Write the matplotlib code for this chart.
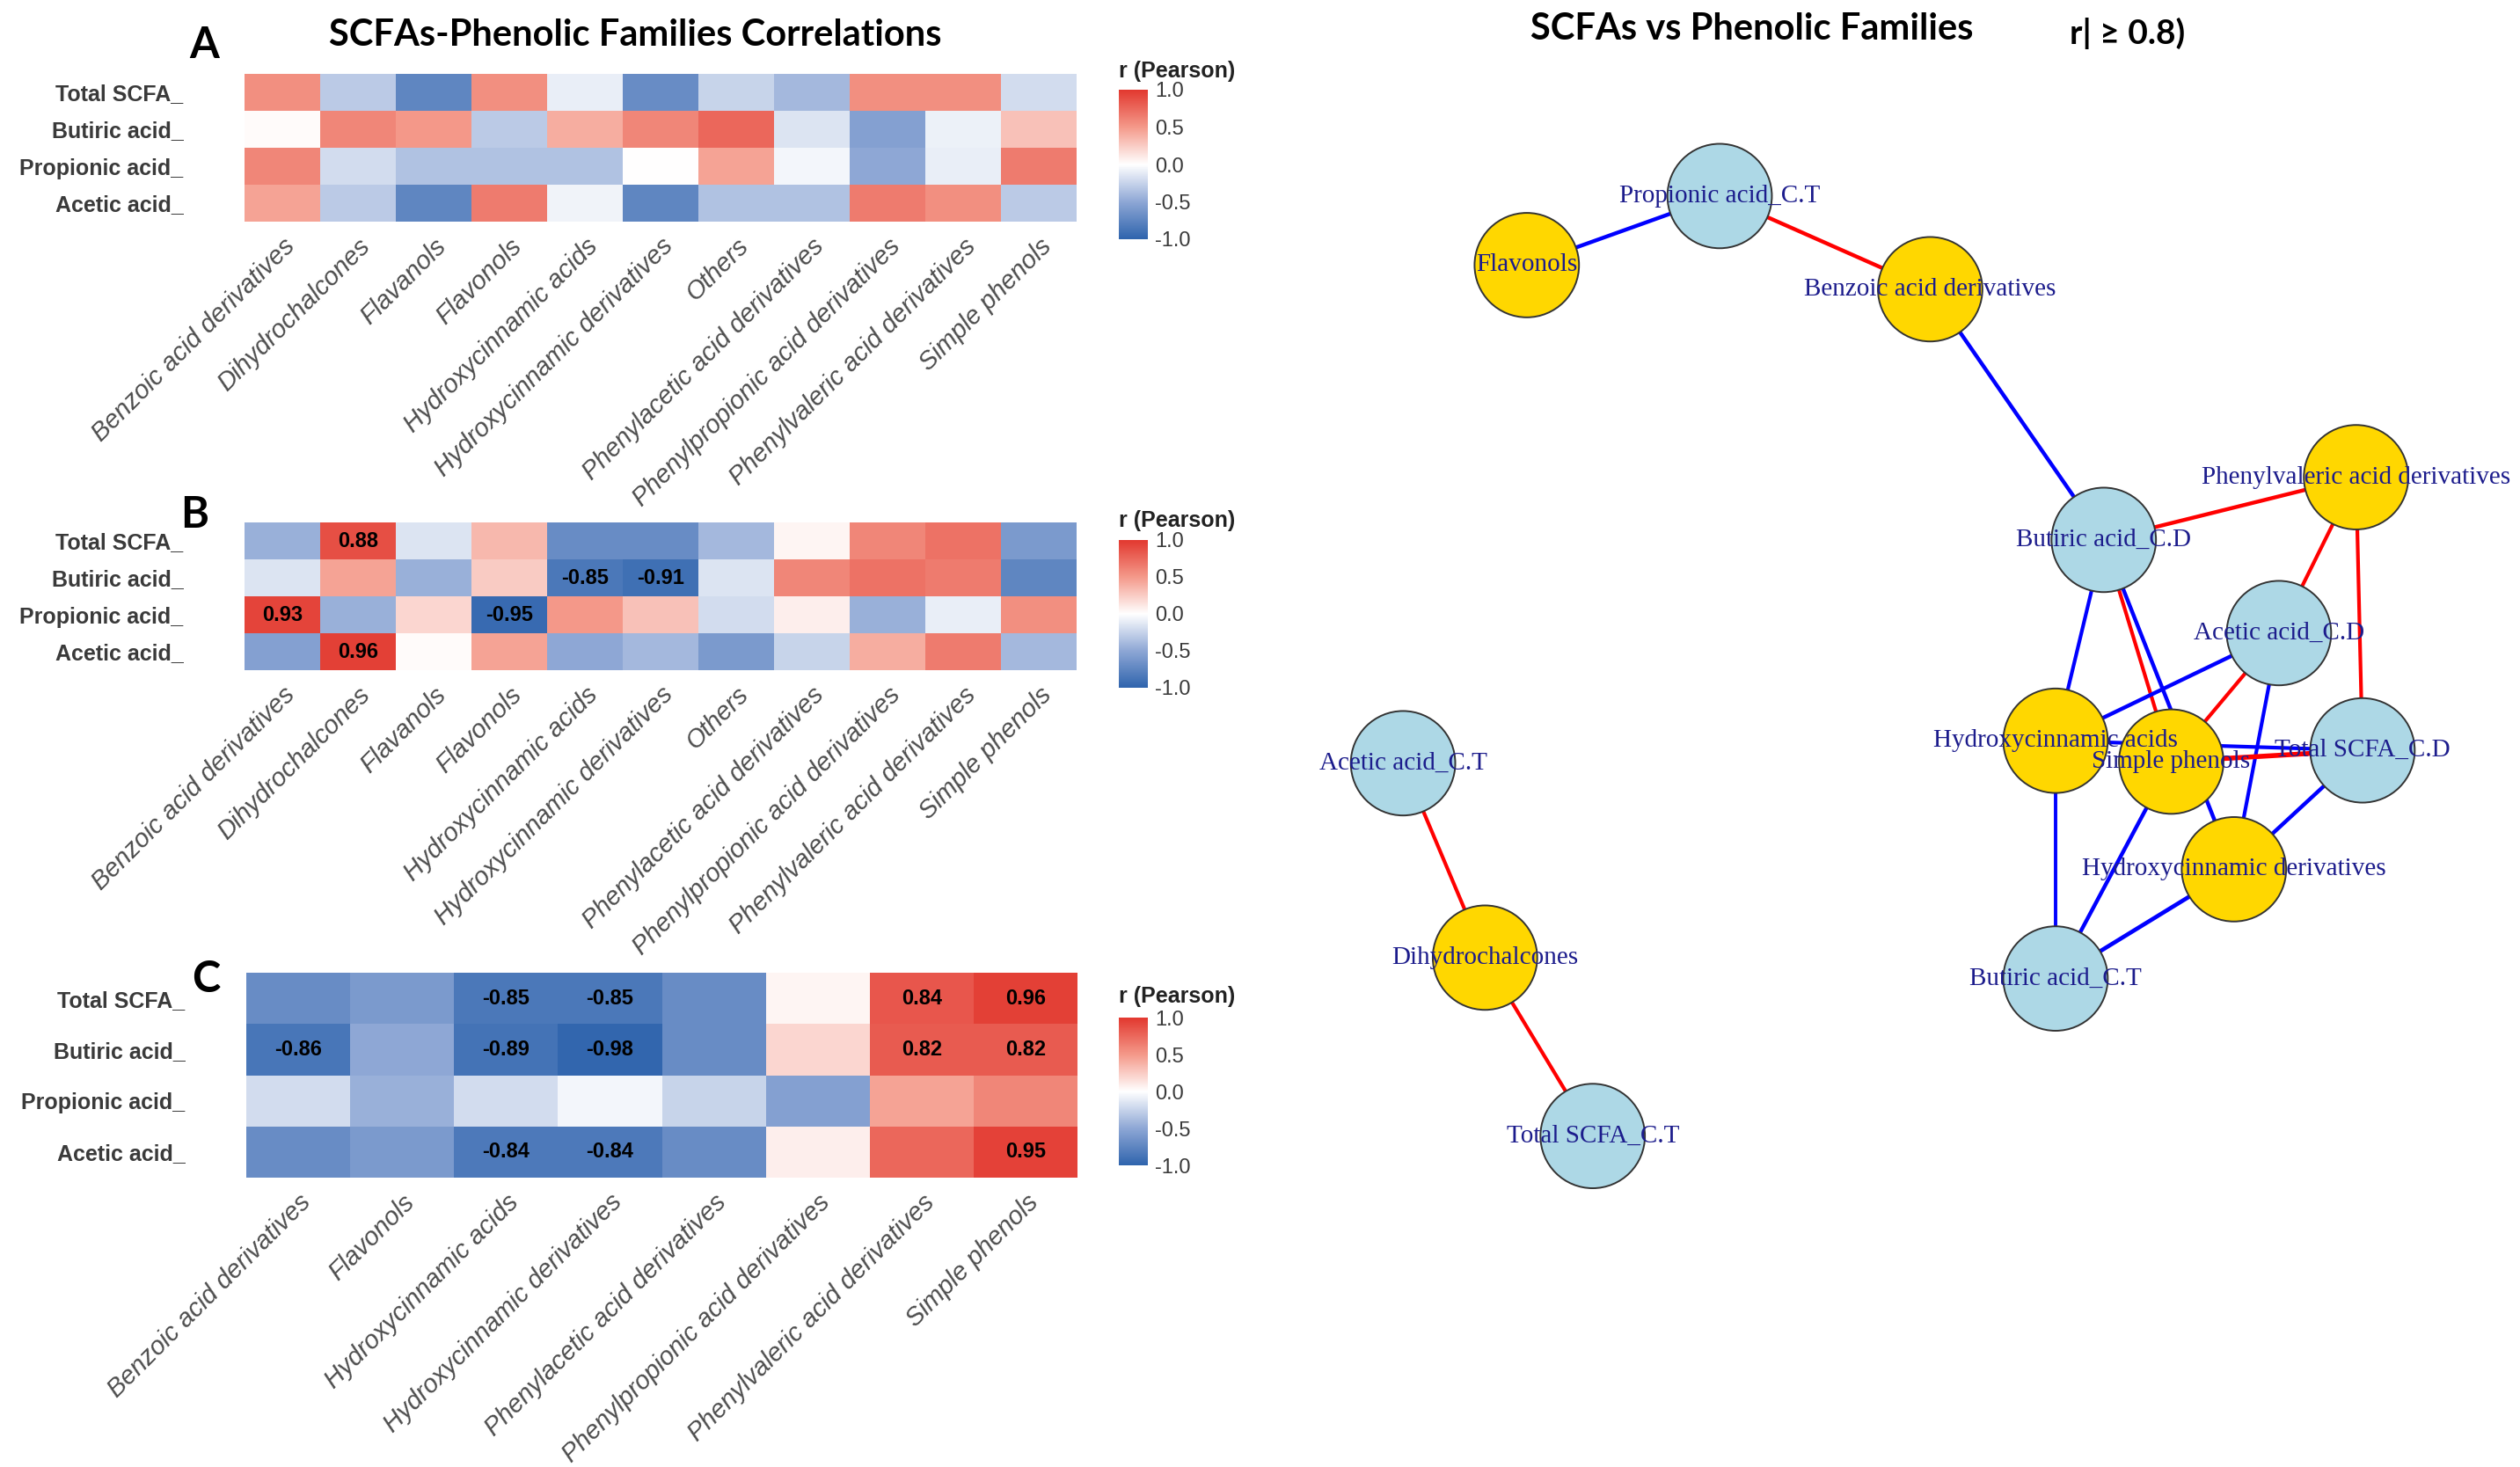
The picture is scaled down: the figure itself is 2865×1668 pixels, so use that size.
import numpy as np
import matplotlib
matplotlib.use("Agg")
import matplotlib.pyplot as plt
from matplotlib.colors import LinearSegmentedColormap
from matplotlib.patches import Circle

# ---------------- heatmap data ----------------
scfa_rows = ["Total SCFA_", "Butiric acid_", "Propionic acid_", "Acetic acid_"]

families_ab = ["Benzoic acid derivatives", "Dihydrochalcones", "Flavanols", "Flavonols",
               "Hydroxycinnamic acids", "Hydroxycinnamic derivatives", "Others",
               "Phenylacetic acid derivatives", "Phenylpropionic acid derivatives",
               "Phenylvaleric acid derivatives", "Simple phenols"]
families_c = ["Benzoic acid derivatives", "Flavonols", "Hydroxycinnamic acids",
              "Hydroxycinnamic derivatives", "Phenylacetic acid derivatives",
              "Phenylpropionic acid derivatives", "Phenylvaleric acid derivatives",
              "Simple phenols"]

r_a = [[0.55, -0.30, -0.75, 0.55, -0.10, -0.70, -0.25, -0.40, 0.55, 0.55, -0.20],
       [0.02, 0.60, 0.50, -0.30, 0.40, 0.60, 0.75, -0.15, -0.55, -0.08, 0.30],
       [0.60, -0.20, -0.35, -0.35, -0.35, 0.00, 0.45, -0.05, -0.50, -0.10, 0.65],
       [0.45, -0.30, -0.75, 0.65, -0.07, -0.75, -0.35, -0.35, 0.65, 0.55, -0.30]]

r_b = [[-0.45, 0.88, -0.15, 0.35, -0.70, -0.70, -0.40, 0.05, 0.60, 0.70, -0.60],
       [-0.15, 0.45, -0.45, 0.25, -0.85, -0.91, -0.15, 0.60, 0.70, 0.65, -0.75],
       [0.93, -0.45, 0.20, -0.95, 0.50, 0.30, -0.20, 0.08, -0.45, -0.10, 0.55],
       [-0.55, 0.96, 0.02, 0.45, -0.50, -0.40, -0.60, -0.25, 0.40, 0.65, -0.40]]

r_c = [[-0.70, -0.60, -0.85, -0.85, -0.70, 0.05, 0.84, 0.96],
       [-0.86, -0.50, -0.89, -0.98, -0.70, 0.20, 0.82, 0.82],
       [-0.20, -0.45, -0.20, -0.05, -0.25, -0.55, 0.45, 0.60],
       [-0.70, -0.60, -0.84, -0.84, -0.70, 0.08, 0.75, 0.95]]

cbar_ticks = [-1.0, -0.5, 0.0, 0.5, 1.0]

# ---------------- network data ----------------
node_names = ["Flavonols", "Propionic acid_C.T", "Benzoic acid derivatives",
              "Phenylvaleric acid derivatives", "Butiric acid_C.D", "Acetic acid_C.D",
              "Hydroxycinnamic acids", "Simple phenols", "Total SCFA_C.D",
              "Hydroxycinnamic derivatives", "Butiric acid_C.T", "Acetic acid_C.T",
              "Dihydrochalcones", "Total SCFA_C.T"]
node_x = [950, 1070, 1201, 1466, 1309, 1418, 1279, 1351, 1470, 1390, 1279, 873, 924, 991]
node_y = [165, 122, 180, 297, 336, 394, 461, 474, 467, 541, 609, 475, 596, 707]
node_kind = ["phenol", "scfa", "phenol", "phenol", "scfa", "scfa", "phenol", "phenol",
             "scfa", "phenol", "scfa", "scfa", "phenol", "scfa"]

edges = [("Flavonols", "Propionic acid_C.T", "neg"),
         ("Propionic acid_C.T", "Benzoic acid derivatives", "pos"),
         ("Benzoic acid derivatives", "Butiric acid_C.D", "neg"),
         ("Butiric acid_C.D", "Phenylvaleric acid derivatives", "pos"),
         ("Phenylvaleric acid derivatives", "Acetic acid_C.D", "pos"),
         ("Phenylvaleric acid derivatives", "Total SCFA_C.D", "pos"),
         ("Butiric acid_C.D", "Hydroxycinnamic acids", "neg"),
         ("Butiric acid_C.D", "Simple phenols", "pos"),
         ("Butiric acid_C.D", "Hydroxycinnamic derivatives", "neg"),
         ("Acetic acid_C.D", "Hydroxycinnamic acids", "neg"),
         ("Acetic acid_C.D", "Simple phenols", "pos"),
         ("Acetic acid_C.D", "Hydroxycinnamic derivatives", "neg"),
         ("Hydroxycinnamic acids", "Total SCFA_C.D", "neg"),
         ("Simple phenols", "Total SCFA_C.D", "pos"),
         ("Total SCFA_C.D", "Hydroxycinnamic derivatives", "neg"),
         ("Hydroxycinnamic acids", "Butiric acid_C.T", "neg"),
         ("Simple phenols", "Butiric acid_C.T", "neg"),
         ("Hydroxycinnamic derivatives", "Butiric acid_C.T", "neg"),
         ("Acetic acid_C.T", "Dihydrochalcones", "pos"),
         ("Dihydrochalcones", "Total SCFA_C.T", "pos")]
edge_w = [3.2, 3.2, 3.2, 3.2, 3.0, 3.0, 3.0, 3.0, 3.2, 3.2, 3.0, 3.0, 3.0, 4.0,
          3.2, 2.8, 3.2, 3.4, 3.0, 3.0]

# ---------------- figure ----------------
W, H = 2865, 1668
fig = plt.figure(figsize=(W / 100, H / 100), dpi=100)

cmap = LinearSegmentedColormap.from_list(
    "pearson", [(0, "#2F64AD"), (0.25, "#8EA7D5"), (0.5, "#FFFFFF"),
                (0.75, "#F4998A"), (1, "#E2382F")])

sans = ["Liberation Sans", "DejaVu Sans"]
titlef = ["Lato", "DejaVu Sans"]


def px_rect(x0, y0, x1, y1):
    # pixel box (top-left origin) -> figure fraction rect
    return [x0 / W, 1 - y1 / H, (x1 - x0) / W, (y1 - y0) / H]


def heatmap(vals, cols, box, cbox, title_y, letter, letter_xy):
    vals = np.array(vals)
    ax = fig.add_axes(px_rect(*box))
    mesh = ax.pcolormesh(np.arange(len(cols) + 1), np.arange(len(scfa_rows) + 1), vals,
                         cmap=cmap, vmin=-1, vmax=1)
    ax.set_xlim(0, len(cols))
    ax.set_ylim(len(scfa_rows), 0)
    for s in ax.spines.values():
        s.set_visible(False)
    ax.set_yticks(np.arange(len(scfa_rows)) + 0.5)
    ax.set_yticklabels(scfa_rows, fontsize=18, fontweight="bold", color="#3a3a3a",
                       family=sans)
    ax.set_xticks(np.arange(len(cols)) + 0.5)
    ax.set_xticklabels(cols, rotation=45, ha="right", rotation_mode="anchor",
                       fontsize=21, style="italic", color="#4d4d4d", family=sans)
    ax.tick_params(axis="y", length=0, pad=50)
    ax.tick_params(axis="x", length=0, pad=10)
    for i in range(vals.shape[0]):
        for j in range(vals.shape[1]):
            if abs(vals[i, j]) >= 0.8:
                ax.text(j + 0.5, i + 0.5, f"{vals[i, j]:.2f}", ha="center", va="center",
                        fontsize=17, fontweight="bold", color="black", family=sans)
    cax = fig.add_axes(px_rect(*cbox))
    cb = fig.colorbar(mesh, cax=cax, ticks=cbar_ticks)
    cb.outline.set_visible(False)
    cb.ax.set_yticklabels([f"{t:.1f}" for t in cbar_ticks])
    cb.ax.tick_params(length=0, pad=6, labelsize=17, labelcolor="#3a3a3a")
    for lab in cb.ax.get_yticklabels():
        lab.set_family(sans)
    fig.text(cbox[0] / W, 1 - title_y / H, "r (Pearson)", fontsize=18, fontweight="bold",
             ha="left", va="center", family=sans, color="#222222")
    fig.text(letter_xy[0] / W, 1 - letter_xy[1] / H, letter, fontsize=35,
             fontweight="bold", ha="center", va="center", family=titlef)


heatmap(r_a, families_ab, (278, 84, 1224, 252), (1272, 102, 1305, 272), 81, "A", (232, 52))
heatmap(r_b, families_ab, (278, 594, 1224, 762), (1272, 614, 1305, 782), 592, "B", (221, 585))
heatmap(r_c, families_c, (280, 1106, 1225, 1339), (1272, 1157, 1305, 1325), 1133, "C", (234, 1114))

fig.text(722 / W, 1 - 40 / H, "SCFAs-Phenolic Families Correlations", fontsize=30,
         fontweight="bold", ha="center", va="center", family=titlef)

# ---------------- network ----------------
nax = fig.add_axes([0.5, 0, 0.5, 1])
nax.set_xlim(784, 1568)
nax.set_ylim(913, 0)
nax.axis("off")

pos = {n: (x, y) for n, x, y in zip(node_names, node_x, node_y)}
edge_col = {"pos": "#FF0000", "neg": "#0000FF"}
for (a, b, sign), w in zip(edges, edge_w):
    nax.plot([pos[a][0], pos[b][0]], [pos[a][1], pos[b][1]], color=edge_col[sign],
             lw=w, zorder=1, solid_capstyle="butt")

node_fill = {"scfa": "#ADD8E6", "phenol": "#FFD700"}
for n, k in zip(node_names, node_kind):
    nax.add_patch(Circle(pos[n], 32.5, facecolor=node_fill[k], edgecolor="#333333",
                         lw=1.4, zorder=2))
for n in node_names:
    nax.text(pos[n][0], pos[n][1], n, ha="center", va="center", fontsize=21,
             color="#1c1c8c", family=["Liberation Serif", "DejaVu Serif"], zorder=3)

fig.text(1992 / W, 1 - 33 / H, "SCFAs vs Phenolic Families", fontsize=30,
         fontweight="bold", ha="center", va="center", family=titlef)
fig.text(2419 / W, 1 - 38 / H, "r| \u2265 0.8)", fontsize=28,
         fontweight="bold", ha="center", va="center", family=titlef)

fig.savefig("out.png", dpi=100)
